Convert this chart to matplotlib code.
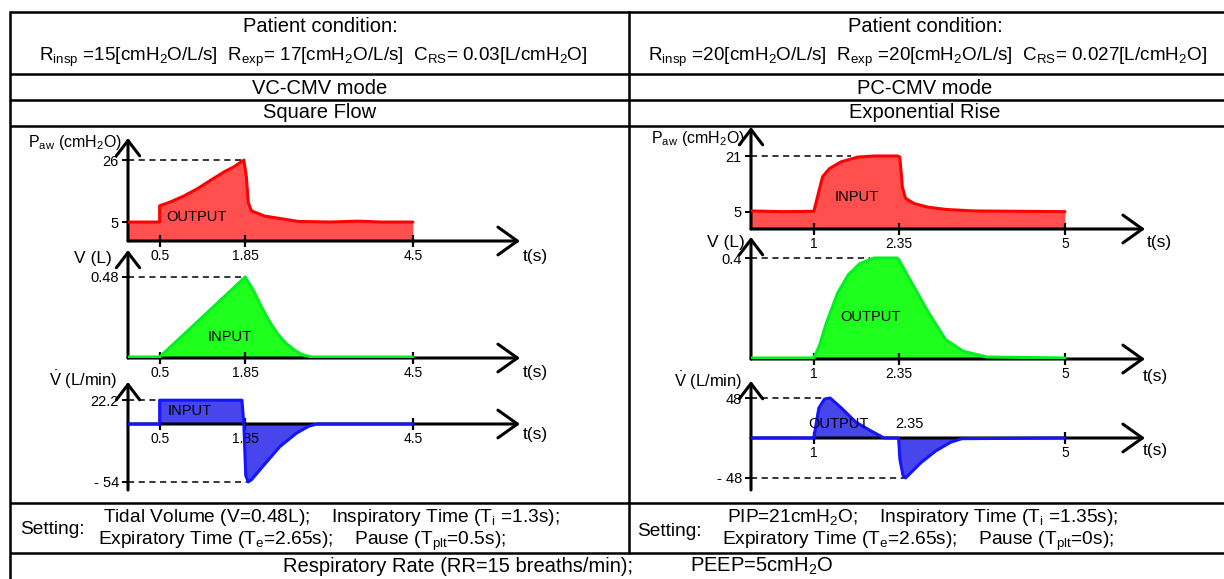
import matplotlib
matplotlib.use('Agg')
import matplotlib.pyplot as plt

plt.rcParams['font.family'] = ['Liberation Sans', 'DejaVu Sans']
plt.rcParams['mathtext.fontset'] = 'custom'
plt.rcParams['mathtext.rm'] = 'Liberation Sans'
plt.rcParams['mathtext.it'] = 'Liberation Sans:italic'
plt.rcParams['mathtext.bf'] = 'Liberation Sans:bold'

# ---------------- data ----------------
# Left column: VC-CMV, square flow
paw_L_t = [0, 0.5, 0.5, 0.67, 0.88, 1.09, 1.31, 1.52, 1.68, 1.79, 1.83, 1.87, 1.90, 1.95, 2.16, 2.37, 2.69, 3.2, 3.63, 4.0, 4.5]
paw_L_v = [5, 5, 10.5, 11.8, 13.8, 16.2, 19.2, 22.0, 23.8, 25.4, 26, 20.3, 11.6, 8.8, 7.0, 6.3, 5.2, 5.0, 5.3, 5.0, 5.0]

vol_L_t = [0, 0.5, 1.77, 1.85, 1.98, 2.11, 2.24, 2.36, 2.49, 2.62, 2.75, 2.9, 4.5]
vol_L_v = [0, 0, 0.45, 0.48, 0.40, 0.30, 0.21, 0.14, 0.084, 0.044, 0.014, 0, 0]

flow_L_t = [0, 0.5, 0.5, 1.80, 1.83, 1.86, 1.90, 1.95, 2.14, 2.40, 2.66, 2.85, 2.98, 4.5]
flow_L_v = [0, 0, 22.2, 22.2, 0, -48, -54, -52, -38.8, -21, -8.6, -2.2, 0, 0]

# Right column: PC-CMV, exponential rise
paw_R_t = [0, 0.5, 1.0, 1.06, 1.14, 1.25, 1.43, 1.70, 1.96, 2.33, 2.37, 2.41, 2.46, 2.6, 2.81, 3.12, 3.55, 5.0]
paw_R_v = [5.3, 5.1, 5.2, 9.4, 15.1, 17.4, 19.3, 20.7, 21.0, 21.0, 20.7, 12.2, 8.9, 7.4, 6.4, 5.7, 5.3, 5.1]

vol_R_t = [0, 1.0, 1.087, 1.20, 1.38, 1.55, 1.73, 1.96, 2.32, 2.35, 2.56, 2.83, 3.1, 3.38, 3.75, 5.0]
vol_R_v = [0, 0, 0.047, 0.14, 0.26, 0.333, 0.377, 0.40, 0.40, 0.395, 0.30, 0.18, 0.073, 0.027, 0.004, 0]

flow_R_t = [0, 1.0, 1.08, 1.17, 1.26, 1.44, 1.67, 1.91, 2.12, 2.35, 2.37, 2.42, 2.46, 2.70, 2.94, 3.18, 3.36, 5.0]
flow_R_v = [0, 0, 36, 46.7, 48, 36, 19, 8.5, 0, 0, -25, -45, -48, -30, -15.6, -5, -0.8, 0]

xticks_L = [0.5, 1.85, 4.5]
xticks_R = [1, 2.35, 5]
paw_L_marks = [26, 5]
vol_L_marks = [0.48]
flow_L_marks = [22.2, -54]
paw_R_marks = [21, 5]
vol_R_marks = [0.4]
flow_R_marks = [48, -48]

# ---------------- figure ----------------
W, H = 1224, 579
fig = plt.figure(figsize=(W / 100, H / 100), dpi=100)
fig.patch.set_facecolor('white')

RED_F, RED_E = '#ff4f4f', '#ff0000'
GRN_F, GRN_E = '#1eff1e', '#00f020'
BLU_F, BLU_E = '#4646ec', '#1414ff'


def panel(x0, sx, xtip, y_axis, y_top, y_bot, y0, sy, xticks, yticks, ylabels):
    def val(yp):
        return (y0 - yp) / sy
    tmax = (xtip - x0) / sx
    ax = fig.add_axes([x0 / W, 1 - y_bot / H, (xtip - x0) / W, (y_bot - y_top) / H])
    ax.patch.set_visible(False)
    ax.set_xlim(0, tmax)
    ax.set_ylim(val(y_bot), val(y_top))
    base = val(y_axis)
    for s in ax.spines.values():
        s.set_visible(False)
    ax.spines['bottom'].set_position(('data', base))
    ax.set_xticks(xticks)
    ax.set_xticklabels([f'{t:g}' for t in xticks])
    ax.set_yticks(yticks)
    ax.set_yticklabels(ylabels)
    ax.tick_params(axis='x', direction='inout', length=8, width=1.6, labelsize=10, pad=2)
    ax.tick_params(axis='y', direction='out', length=4, width=1.4, labelsize=10.5, pad=2.5)
    ap_y = dict(arrowstyle='->,head_length=0.55,head_width=0.42', lw=2.2, color='black',
                shrinkA=0, shrinkB=0, mutation_scale=20)
    ap_x = dict(arrowstyle='->,head_length=0.7,head_width=0.5', lw=2.2, color='black',
                shrinkA=0, shrinkB=0, mutation_scale=20)
    ax.annotate('', xy=(0, val(y_top)), xytext=(0, val(y_bot)), arrowprops=ap_y,
                annotation_clip=False, zorder=4)
    ax.annotate('', xy=(tmax, base), xytext=(0, base), arrowprops=ap_x,
                annotation_clip=False, zorder=4)
    return ax, base


def curve(ax, base, t, v, fc, ec, fill_to=None):
    ref = base if fill_to is None else fill_to
    ax.fill_between(t, ref, v, color=fc, lw=0, zorder=1)
    ax.plot(t, v, color=ec, lw=2.2, zorder=5, solid_joinstyle='round', solid_capstyle='round')


def dash(ax, level, t_end):
    ax.plot([0, t_end], [level, level], color='black', lw=1.1, ls=(0, (4, 3)), zorder=3)


# Left panels
ax, b = panel(128, 63.3, 520, 241, 138, 241, 236.8, 2.952, xticks_L, paw_L_marks, ['26', '5'])
curve(ax, b, paw_L_t, paw_L_v, RED_F, RED_E)
dash(ax, paw_L_marks[0], paw_L_t[paw_L_v.index(max(paw_L_v))])

ax, b = panel(128, 63.3, 520, 358, 250, 358, 357, 166.7, xticks_L, vol_L_marks, ['0.48'])
curve(ax, b, vol_L_t, vol_L_v, GRN_F, GRN_E)
dash(ax, vol_L_marks[0], vol_L_t[vol_L_v.index(max(vol_L_v))])

ax, b = panel(128, 63.3, 520, 424, 382, 490, 424, 1.072, xticks_L, flow_L_marks, ['22.2', '- 54'])
curve(ax, b, flow_L_t, flow_L_v, BLU_F, BLU_E, fill_to=0)
dash(ax, flow_L_marks[0], 0.5)
dash(ax, flow_L_marks[1], flow_L_t[flow_L_v.index(min(flow_L_v))])

# Right panels
ax, b = panel(751, 62.8, 1145, 229, 127, 229, 229.5, 3.5, xticks_R, paw_R_marks, ['21', '5'])
curve(ax, b, paw_R_t, paw_R_v, RED_F, RED_E)
dash(ax, paw_R_marks[0], 1.6)

ax, b = panel(751, 62.8, 1145, 359, 237, 359, 358, 250, xticks_R, vol_R_marks, ['0.4'])
curve(ax, b, vol_R_t, vol_R_v, GRN_F, GRN_E)
dash(ax, vol_R_marks[0], 1.9)

ax, b = panel(751, 62.8, 1145, 438, 381, 490, 438, 0.833, [1, 5], flow_R_marks, ['48', '- 48'])
curve(ax, b, flow_R_t, flow_R_v, BLU_F, BLU_E, fill_to=0)
dash(ax, flow_R_marks[0], flow_R_t[flow_R_v.index(max(flow_R_v))])
dash(ax, flow_R_marks[1], flow_R_t[flow_R_v.index(min(flow_R_v))])
ax.text(2.53, 17, '2.35', ha='center', va='center', fontsize=10.5)

# ---------------- table + text (pixel canvas) ----------------
cv = fig.add_axes([0, 0, 1, 1], zorder=10)
cv.set_xlim(0, W)
cv.set_ylim(H, 0)
cv.axis('off')
cv.patch.set_visible(False)

for yy in [12, 74, 100, 126, 503, 553]:
    cv.plot([10, W], [yy, yy], color='black', lw=1.8, solid_capstyle='butt')
cv.plot([10, 10], [12, H], color='black', lw=1.8)
cv.plot([629, 629], [12, 553], color='black', lw=1.8)

T = 14.5
P = 13.6
cv.text(320, 27, 'Patient condition:', ha='center', va='center', fontsize=T)
cv.text(925, 27, 'Patient condition:', ha='center', va='center', fontsize=T)
cv.text(313, 57, r'R$_{\rm insp}$ =15[cmH$_2$O/L/s]  R$_{\rm exp}$= 17[cmH$_2$O/L/s]  C$_{\rm RS}$= 0.03[L/cmH$_2$O]',
        ha='center', va='center', fontsize=P)
cv.text(927, 57, r'R$_{\rm insp}$ =20[cmH$_2$O/L/s]  R$_{\rm exp}$ =20[cmH$_2$O/L/s]  C$_{\rm RS}$= 0.027[L/cmH$_2$O]',
        ha='center', va='center', fontsize=P)
cv.text(320, 88, 'VC-CMV mode', ha='center', va='center', fontsize=T)
cv.text(320, 113, 'Square Flow', ha='center', va='center', fontsize=T)
cv.text(925, 88, 'PC-CMV mode', ha='center', va='center', fontsize=T)
cv.text(925, 113, 'Exponential Rise', ha='center', va='center', fontsize=T)

S = 13.8
cv.text(20, 529, 'Setting:', ha='left', va='center', fontsize=S)
cv.text(103, 518, r'Tidal Volume (V=0.48L);    Inspiratory Time (T$_{\rm i}$ =1.3s);', ha='left', va='center', fontsize=S)
cv.text(98, 541, r'Expiratory Time (T$_{\rm e}$=2.65s);    Pause (T$_{\rm plt}$=0.5s);', ha='left', va='center', fontsize=S)
cv.text(637, 531, 'Setting:', ha='left', va='center', fontsize=S)
cv.text(727, 518, r'PIP=21cmH$_2$O;    Inspiratory Time (T$_{\rm i}$ =1.35s);', ha='left', va='center', fontsize=S)
cv.text(722, 541, r'Expiratory Time (T$_{\rm e}$=2.65s);    Pause (T$_{\rm plt}$=0s);', ha='left', va='center', fontsize=S)
cv.text(283, 566, r'Respiratory Rate (RR=15 breaths/min);', ha='left', va='center', fontsize=14.5)
cv.text(690, 566, r'PEEP=5cmH$_2$O', ha='left', va='center', fontsize=14.5)

L = 11.5
cv.text(122, 143, r'P$_{\rm aw}$ (cmH$_2$O)', ha='right', va='center', fontsize=L)
cv.text(112, 258, 'V (L)', ha='right', va='center', fontsize=12.5)
cv.text(117, 380, r'$\dot{\rm V}$ (L/min)', ha='right', va='center', fontsize=12)
cv.text(745, 138, r'P$_{\rm aw}$ (cmH$_2$O)', ha='right', va='center', fontsize=L)
cv.text(745, 243, 'V (L)', ha='right', va='center', fontsize=12.5)
cv.text(742, 381, r'$\dot{\rm V}$ (L/min)', ha='right', va='center', fontsize=12)

for (x, y) in [(523, 257), (523, 372), (523, 435), (1147, 243), (1143, 377), (1143, 450)]:
    cv.text(x, y, 't(s)', ha='left', va='center', fontsize=12.5)

M = 10.5
cv.text(196, 217, 'OUTPUT', ha='center', va='center', fontsize=M)
cv.text(230, 337, 'INPUT', ha='center', va='center', fontsize=M)
cv.text(190, 411, 'INPUT', ha='center', va='center', fontsize=M)
cv.text(857, 197, 'INPUT', ha='center', va='center', fontsize=M)
cv.text(870, 317, 'OUTPUT', ha='center', va='center', fontsize=M)
cv.text(838, 424, 'OUTPUT', ha='center', va='center', fontsize=M)

fig.savefig('out.png', dpi=100)
